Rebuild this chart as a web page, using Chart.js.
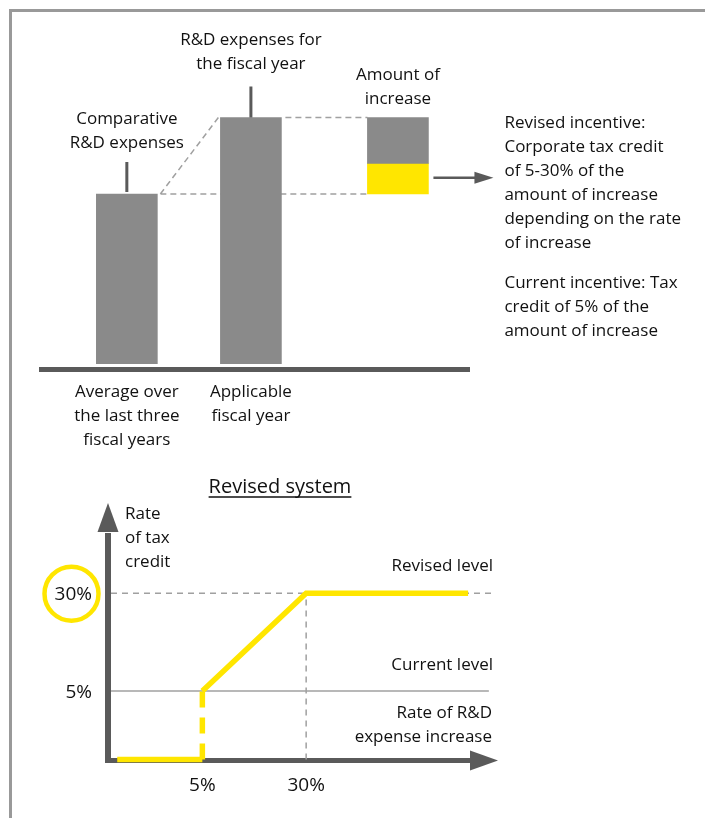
<!DOCTYPE html>
<html>
<head>
<meta charset="utf-8">
<script src="https://cdn.jsdelivr.net/npm/chart.js@4.4.1/dist/chart.umd.min.js"></script>
<style>
  html, body { margin: 0; padding: 0; background: #fff; }
  body { width: 705px; height: 818px; position: relative; overflow: hidden; }
  .frame { position: absolute; left: 9px; top: 9px; width: 760px; height: 860px; border: 3px solid #999; }
  canvas { position: absolute; left: 0; }
  #topChart { top: 0; }
  #bottomChart { top: 460px; }
</style>
</head>
<body>
<div class="frame"></div>
<canvas id="topChart" width="705" height="460"></canvas>
<canvas id="bottomChart" width="705" height="358"></canvas>
<script>
// ---- top diagram: R&D expenses ----
const barLabels = [["Average over", "the last three", "fiscal years"], ["Applicable", "fiscal year"]];
const barCallouts = [["Comparative", "R&D expenses"], ["R&D expenses for", "the fiscal year"], ["Amount of", "increase"]];
const rdExpenses = [100, 145];   // comparative, applicable fiscal year
const creditPortion = 18;        // yellow share of the increase
const incentiveNotes = [
  ["Revised incentive:", "Corporate tax credit", "of 5-30% of the", "amount of increase", "depending on the rate", "of increase"],
  ["Current incentive: Tax", "credit of 5% of the", "amount of increase"]
];

// ---- bottom diagram: revised system ----
const diagramTitle = "Revised system";
const revisedX = [-15.5, 5, 5, 30, 69];   // rate of R&D expense increase (%)
const revisedY = [0, 0, 5, 30, 30];       // rate of tax credit (%)
const revisedLevel = 30;
const currentLevel = 5;
const revisedSpan = [-17, 75];
const currentSpan = [-17, 74];
const xTicks = [5, 30];
const yTicks = [5, 30];
const yAxisTitle = ["Rate", "of tax", "credit"];
const xAxisTitle = ["Rate of R&D", "expense increase"];

const FONT = '"Open Sans", "DejaVu Sans", sans-serif';
const TEXT = "#111";
const DARK = "#5a5a5a";
const YELLOW = "#ffe600";
const BAR_GRAY = "#8a8a8a";
const DASH_GRAY = "#a0a0a0";

// layout slots of the three columns on the x axis
const slot = [1, 2, 3.185];
const BAR_W = 61;

function lines(ctx, arr, x, y, step) {
  arr.forEach((t, i) => ctx.fillText(t, x, y + i * step));
}

const topDecor = {
  id: "topDecor",
  beforeDatasetsDraw(chart) {
    const { ctx, scales: { x, y } } = chart;
    const half = BAR_W / 2;
    const x1 = x.getPixelForValue(slot[0]);
    const x2 = x.getPixelForValue(slot[1]);
    const x3 = x.getPixelForValue(slot[2]);
    const yLow = y.getPixelForValue(rdExpenses[0]);
    const yHigh = y.getPixelForValue(rdExpenses[1]);
    ctx.save();
    ctx.strokeStyle = DASH_GRAY;
    ctx.lineWidth = 1.5;
    ctx.setLineDash([6, 4]);
    ctx.beginPath();
    ctx.moveTo(x1 + half + 3, yLow);
    ctx.lineTo(x2 - half - 2, yHigh);
    ctx.moveTo(x1 + half + 3, yLow);
    ctx.lineTo(x3 - half, yLow);
    ctx.moveTo(x2 + half + 4, yHigh);
    ctx.lineTo(x3 - half, yHigh);
    ctx.stroke();
    ctx.restore();
  },
  afterDatasetsDraw(chart) {
    const { ctx, chartArea, scales: { x, y } } = chart;
    const half = BAR_W / 2;
    const x1 = x.getPixelForValue(slot[0]);
    const x2 = x.getPixelForValue(slot[1]);
    const x3 = x.getPixelForValue(slot[2]);
    const y0 = y.getPixelForValue(0);
    const yLow = y.getPixelForValue(rdExpenses[0]);
    const yHigh = y.getPixelForValue(rdExpenses[1]);
    ctx.save();

    // baseline
    ctx.strokeStyle = DARK;
    ctx.lineWidth = 5;
    ctx.beginPath();
    ctx.moveTo(chartArea.left - 1, y0 + 5.5);
    ctx.lineTo(chartArea.right, y0 + 5.5);
    ctx.stroke();

    // leader ticks
    ctx.lineWidth = 3;
    ctx.beginPath();
    ctx.moveTo(x1, yLow - 2);
    ctx.lineTo(x1, yLow - 32);
    ctx.moveTo(x2, yHigh);
    ctx.lineTo(x2, yHigh - 31);
    ctx.stroke();

    // arrow to the notes
    const ya = y.getPixelForValue(rdExpenses[0] + creditPortion / 2) - 1;
    const tip = x3 + half + 65;
    ctx.lineWidth = 2.5;
    ctx.beginPath();
    ctx.moveTo(x3 + half + 5, ya);
    ctx.lineTo(tip - 18, ya);
    ctx.stroke();
    ctx.fillStyle = DARK;
    ctx.beginPath();
    ctx.moveTo(tip - 19, ya - 6);
    ctx.lineTo(tip, ya);
    ctx.lineTo(tip - 19, ya + 6);
    ctx.closePath();
    ctx.fill();

    // texts
    ctx.fillStyle = TEXT;
    ctx.font = "17px " + FONT;
    ctx.textBaseline = "alphabetic";
    ctx.textAlign = "center";
    lines(ctx, barCallouts[0], x1, yLow - 70, 24);
    lines(ctx, barCallouts[1], x2, yHigh - 73, 24);
    lines(ctx, barCallouts[2], x3, yHigh - 38, 24);
    lines(ctx, barLabels[0], x1, y0 + 33, 24);
    lines(ctx, barLabels[1], x2, y0 + 33, 24);

    ctx.textAlign = "left";
    lines(ctx, incentiveNotes[0], tip + 11, yHigh + 10, 24);
    lines(ctx, incentiveNotes[1], tip + 11, yHigh + 10 + incentiveNotes[0].length * 24 + 16, 24);
    ctx.restore();
  }
};

new Chart(document.getElementById("topChart"), {
  type: "bar",
  data: {
    datasets: [
      {
        label: "R&D expenses",
        data: [
          { x: slot[0], y: [0, rdExpenses[0]] },
          { x: slot[1], y: [0, rdExpenses[1]] },
          { x: slot[2], y: [rdExpenses[0] + creditPortion, rdExpenses[1]] }
        ],
        backgroundColor: BAR_GRAY
      },
      {
        label: "Tax credit",
        data: [{ x: slot[2], y: [rdExpenses[0], rdExpenses[0] + creditPortion] }],
        backgroundColor: YELLOW
      }
    ]
  },
  options: {
    responsive: false,
    animation: false,
    layout: { padding: { left: 40, right: 235, top: 92, bottom: 96 } },
    datasets: { bar: { grouped: false, barThickness: BAR_W, borderWidth: 0 } },
    scales: {
      x: { type: "linear", min: 0.3, max: 3.766, offset: false, display: false },
      y: { min: 0, max: 160, display: false }
    },
    plugins: { legend: { display: false }, tooltip: { enabled: false } }
  },
  plugins: [topDecor]
});

// y scale of the schematic: the 0-5% band is stretched
const yBreaks = [[0, 0], [5, 1 / 3], [40, 1]];
function toDecimal(v) {
  for (let i = 1; i < yBreaks.length; i++) {
    if (v <= yBreaks[i][0] || i === yBreaks.length - 1) {
      const [v0, d0] = yBreaks[i - 1];
      const [v1, d1] = yBreaks[i];
      return d0 + (v - v0) / (v1 - v0) * (d1 - d0);
    }
  }
}
function fromDecimal(d) {
  for (let i = 1; i < yBreaks.length; i++) {
    if (d <= yBreaks[i][1] || i === yBreaks.length - 1) {
      const [v0, d0] = yBreaks[i - 1];
      const [v1, d1] = yBreaks[i];
      return v0 + (d - d0) / (d1 - d0) * (v1 - v0);
    }
  }
}
class SchematicScale extends Chart.LinearScale {
  static id = "schematic";
  static defaults = Chart.LinearScale.defaults;
  getPixelForValue(value) {
    if (value === null || value === undefined || isNaN(value)) return NaN;
    return this.getPixelForDecimal(toDecimal(value));
  }
  getValueForPixel(pixel) {
    return fromDecimal(this.getDecimalForPixel(pixel));
  }
}
Chart.register(SchematicScale);

const bottomDecor = {
  id: "bottomDecor",
  beforeDatasetsDraw(chart) {
    const { ctx, chartArea, scales: { x, y } } = chart;
    ctx.save();
    ctx.strokeStyle = DARK;
    ctx.fillStyle = DARK;

    // y axis with arrow
    const ax = chartArea.left - 3;
    ctx.lineWidth = 6;
    ctx.beginPath();
    ctx.moveTo(ax, chartArea.bottom + 3.5);
    ctx.lineTo(ax, chartArea.top - 21);
    ctx.stroke();
    ctx.beginPath();
    ctx.moveTo(ax - 10.5, chartArea.top - 22);
    ctx.lineTo(ax, chartArea.top - 51);
    ctx.lineTo(ax + 10.5, chartArea.top - 22);
    ctx.closePath();
    ctx.fill();

    // x axis with arrow
    const ay = chartArea.bottom + 1;
    ctx.lineWidth = 5;
    ctx.beginPath();
    ctx.moveTo(ax - 3, ay);
    ctx.lineTo(chartArea.right - 22, ay);
    ctx.stroke();
    ctx.beginPath();
    ctx.moveTo(chartArea.right - 23, ay - 10);
    ctx.lineTo(chartArea.right + 5, ay);
    ctx.lineTo(chartArea.right - 23, ay + 10);
    ctx.closePath();
    ctx.fill();

    // tick labels
    ctx.fillStyle = TEXT;
    ctx.font = "19px " + FONT;
    ctx.textAlign = "center";
    ctx.textBaseline = "alphabetic";
    xTicks.forEach(v => ctx.fillText(v + "%", x.getPixelForValue(v), chartArea.bottom + 31.5));
    ctx.textAlign = "right";
    yTicks.forEach(v => ctx.fillText(v + "%", chartArea.left - 19, y.getPixelForValue(v) + 7));

    // circle round the revised rate
    ctx.strokeStyle = YELLOW;
    ctx.lineWidth = 4.5;
    ctx.beginPath();
    ctx.arc(chartArea.left - 39.5, y.getPixelForValue(revisedLevel) + 0.5, 27, 0, Math.PI * 2);
    ctx.stroke();

    // title
    ctx.fillStyle = TEXT;
    ctx.font = "20px " + FONT;
    ctx.textAlign = "center";
    ctx.fillText(diagramTitle, 280, 33);
    const w = ctx.measureText(diagramTitle).width;
    ctx.strokeStyle = TEXT;
    ctx.lineWidth = 1.5;
    ctx.beginPath();
    ctx.moveTo(280 - w / 2, 37);
    ctx.lineTo(280 + w / 2, 37);
    ctx.stroke();

    // axis titles and level labels
    ctx.font = "17px " + FONT;
    ctx.textAlign = "left";
    lines(ctx, yAxisTitle, chartArea.left + 14, chartArea.top - 35, 24);
    ctx.textAlign = "right";
    ctx.fillText("Revised level", chartArea.right, y.getPixelForValue(revisedLevel) - 22);
    ctx.fillText("Current level", chartArea.right, y.getPixelForValue(currentLevel) - 21);
    lines(ctx, xAxisTitle, chartArea.right - 1, y.getPixelForValue(currentLevel) + 27, 24);
    ctx.restore();
  }
};

const pts = (xs, ys) => xs.map((v, i) => ({ x: v, y: ys[i] }));

new Chart(document.getElementById("bottomChart"), {
  type: "line",
  data: {
    datasets: [
      {
        label: "Revised system",
        data: pts(revisedX, revisedY),
        borderColor: YELLOW,
        borderWidth: 5.5,
        borderCapStyle: "butt",
        borderJoinStyle: "miter",
        segment: {
          borderDash: ctx => (ctx.p0.parsed.x === ctx.p1.parsed.x ? [16, 10] : undefined)
        }
      },
      {
        label: "Revised level",
        data: pts(revisedSpan, [revisedLevel, revisedLevel]),
        borderColor: DASH_GRAY,
        borderWidth: 1.5,
        borderDash: [6, 5]
      },
      {
        label: "Current level",
        data: pts(currentSpan, [currentLevel, currentLevel]),
        borderColor: DASH_GRAY,
        borderWidth: 1.5
      },
      {
        label: "30% marker",
        data: pts([30, 30], [0, revisedLevel]),
        borderColor: DASH_GRAY,
        borderWidth: 1.5,
        borderDash: [6, 5]
      }
    ]
  },
  options: {
    responsive: false,
    animation: false,
    layout: { padding: { left: 111, right: 212, top: 94, bottom: 58.5 } },
    datasets: { line: { pointRadius: 0, tension: 0, fill: false, clip: false } },
    scales: {
      x: { type: "linear", min: -17, max: 75, display: false },
      y: { type: "schematic", min: 0, max: 40, display: false }
    },
    plugins: { legend: { display: false }, tooltip: { enabled: false } }
  },
  plugins: [bottomDecor]
});
</script>
</body>
</html>
